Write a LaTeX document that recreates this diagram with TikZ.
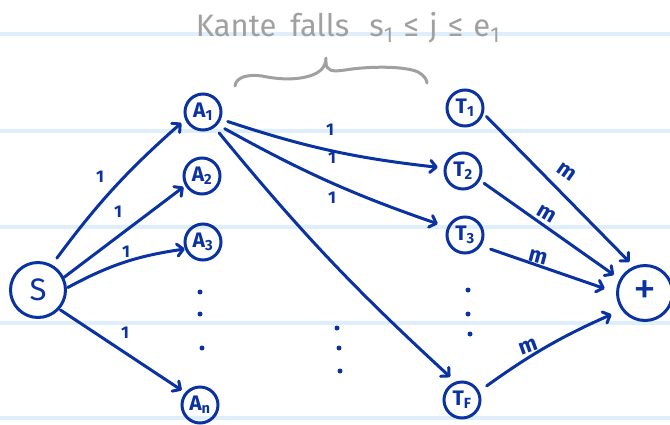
\documentclass[tikz,border=0pt]{standalone}
\usepackage{fontspec}
\setmainfont{Fira Sans}
\usetikzlibrary{arrows.meta}
\definecolor{ink}{RGB}{10,50,160}
\definecolor{pencil}{RGB}{160,160,160}
\definecolor{rulecol}{RGB}{222,238,250}
\begin{document}
\begin{tikzpicture}[x=1pt,y=-1pt,
  circ/.style={circle, draw=ink, line width=3pt, text=ink, inner sep=0pt,
    minimum size=36pt, font=\fontsize{21}{21}\selectfont\bfseries},
  bigcirc/.style={circ, minimum size=55pt, font=\fontsize{31}{31}\selectfont},
  edge/.style={draw=ink, line width=3pt, line cap=round,
    -{Straight Barb[length=6pt,width=12pt,round]}},
  wlabel/.style={text=ink, inner sep=0pt, font=\fontsize{17}{17}\selectfont\bfseries},
  mlabel/.style={text=ink, inner sep=0pt, font=\fontsize{22}{22}\selectfont\bfseries},
  dotp/.style={fill=ink, circle, inner sep=0pt, minimum size=5pt},
  rulestyle/.style={draw=rulecol, line width=3.5pt},
  bracestyle/.style={draw=pencil, line width=3pt, line cap=round, line join=round}
]
\useasboundingbox (0,0) rectangle (670,424);
% ruled paper
\foreach \yy in {34,131,227,323,418} \draw[rulestyle] (0,\yy) -- (670,\yy);

% title and brace
\node[text=pencil, inner sep=0pt, font=\fontsize{31}{31}\selectfont] (title) at (348,28)
  {Kante\hspace{14pt}falls\hspace{20pt}s\textsubscript{1}\hspace{10pt}≤\hspace{10pt}j\hspace{10pt}≤\hspace{10pt}e\textsubscript{1}};
\draw[bracestyle] (235,86) .. controls (236,77) and (248,74) .. (262,76)
  .. controls (290,82) and (312,78) .. (321,70)
  .. controls (325,66) and (326,61) .. (326,58);
\draw[bracestyle] (326,62) .. controls (326,71) and (332,72) .. (345,70)
  .. controls (370,66) and (405,66) .. (418,72)
  .. controls (424,75) and (427,80) .. (427,83);

% nodes
\node[bigcirc] (S) at (38,290) {S};
\node[circ] (A1) at (203,112) {A\textsubscript{1}};
\node[circ] (A2) at (202,176) {A\textsubscript{2}};
\node[circ] (A3) at (203,242) {A\textsubscript{3}};
\node[circ] (An) at (200,405) {A\textsubscript{n}};
\node[circ] (T1) at (465,108) {T\textsubscript{1}};
\node[circ] (T2) at (463,171) {T\textsubscript{2}};
\node[circ] (T3) at (465,235) {T\textsubscript{3}};
\node[circ] (TF) at (462,400) {T\textsubscript{F}};
\node[bigcirc, font=\fontsize{46}{46}\selectfont] (plus) at (645,293) {\raisebox{-2pt}{+}};

% dots
\node[dotp] (da1) at (200,292) {};
\node[dotp] (da2) at (200,314) {};
\node[dotp] (da3) at (202,348) {};
\node[dotp] (dm1) at (337,328) {};
\node[dotp] (dm2) at (339,348) {};
\node[dotp] (dm3) at (340,371) {};
\node[dotp] (dt1) at (468,290) {};
\node[dotp] (dt2) at (468,314) {};
\node[dotp] (dt3) at (470,334) {};

% edges from S
\draw[edge, shorten <=8pt, shorten >=5pt] (S.61) to[bend left=6] (A1.203);
\draw[edge, shorten >=2pt] (S.26) -- (A2.210);
\draw[edge, shorten <=1pt] (S.4) to[bend left=10] (A3.201);
\draw[edge, shorten <=1pt, shorten >=4pt] (S.-42) -- (An.140);
% edges from A1
\draw[edge, shorten <=7pt, shorten >=6pt] (A1.-22) to[bend right=6] (T2.171);
\draw[edge, shorten <=8pt, shorten >=10pt] (A1.-41) to[bend right=5] (T3.156);
\draw[edge, shorten <=7pt, shorten >=7pt] (A1.-53) to[bend right=4] (TF.110);
% edges to plus
\draw[edge, shorten <=4pt, shorten >=6pt] (T1.-17) -- (plus.113);
\draw[edge, shorten <=5pt, shorten >=7pt] (T2.-29) -- (plus.151);
\draw[edge, shorten <=10pt, shorten >=12pt] (T3.-34) -- (plus.179);
\draw[edge, shorten <=9pt, shorten >=11pt] (TF.27) to[bend left=6] (plus.216);

% weights
\node[wlabel] (w1) at (100,177) {1};
\node[wlabel] (w2) at (118,212) {1};
\node[wlabel] (w3) at (126,252) {1};
\node[wlabel] (w4) at (125,333) {1};
\node[wlabel] (w5) at (330,130) {1};
\node[wlabel] (w6) at (332,158) {1};
\node[wlabel] (w7) at (332,198) {1};
\node[mlabel, rotate=-35] (m1) at (567,172) {m};
\node[mlabel, rotate=-30] (m2) at (547,214) {m};
\node[mlabel, rotate=-15] (m3) at (538,257) {m};
\node[mlabel, rotate=20] (m4) at (528,347) {m};
\end{tikzpicture}
\end{document}
